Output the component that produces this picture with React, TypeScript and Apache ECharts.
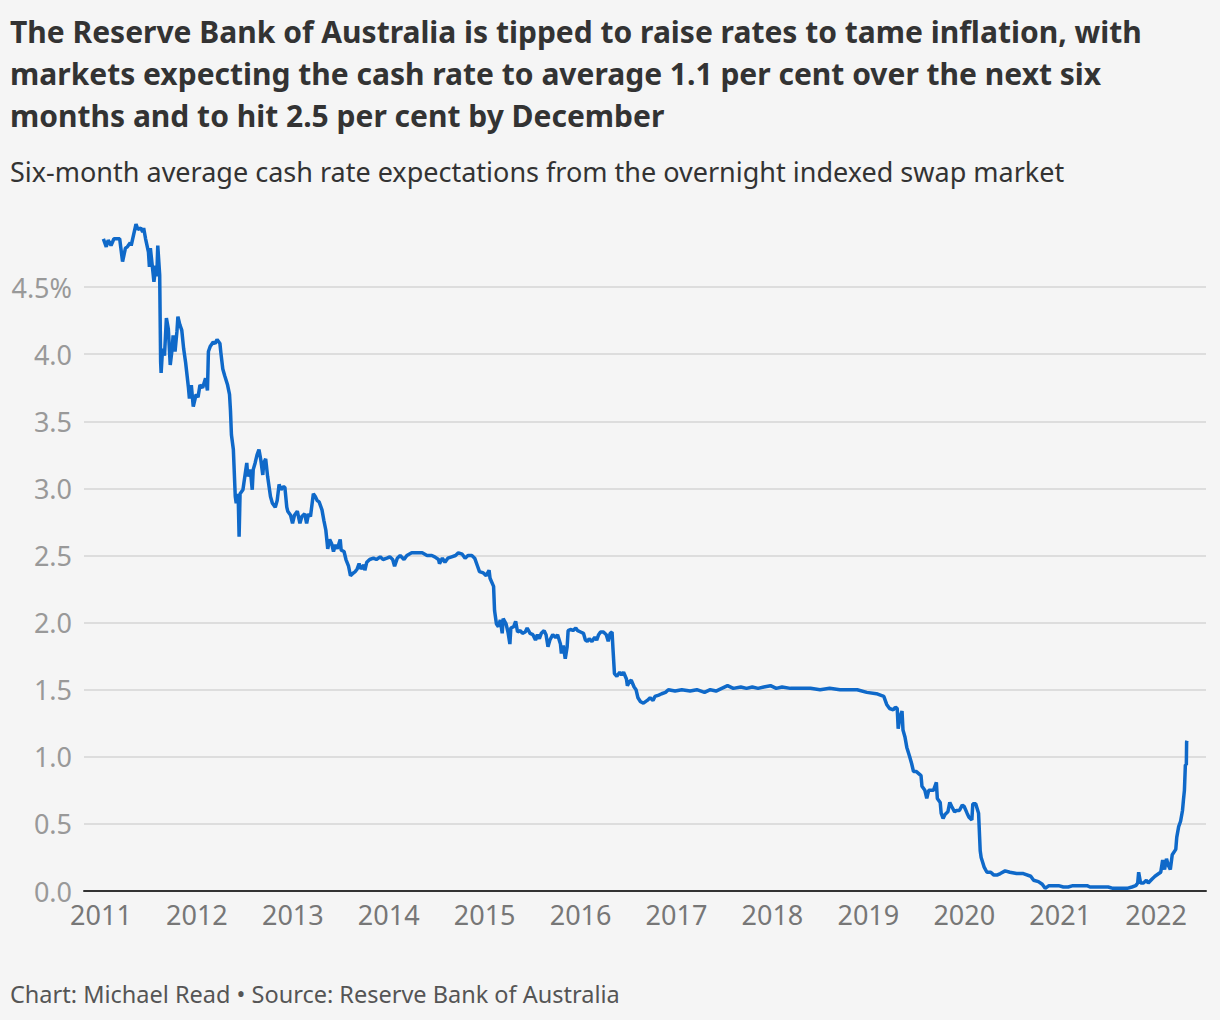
import React, { useEffect, useRef } from "react";
import * as echarts from "echarts";

const titleText =
  "The Reserve Bank of Australia is tipped to raise rates to tame inflation, with\nmarkets expecting the cash rate to average 1.1 per cent over the next six\nmonths and to hit 2.5 per cent by December";
const subtitleText =
  "Six-month average cash rate expectations from the overnight indexed swap market";
const footerText = "Chart: Michael Read \u2022 Source: Reserve Bank of Australia";

const yearTicks = [2011, 2012, 2013, 2014, 2015, 2016, 2017, 2018, 2019, 2020, 2021, 2022];
const yTicks = [0, 0.5, 1, 1.5, 2, 2.5, 3, 3.5, 4, 4.5];

// decimal-year dates
const dates = [
  2011.025, 2011.055, 2011.075, 2011.105, 2011.135, 2011.165, 2011.195, 2011.225, 2011.255, 2011.275,
  2011.305, 2011.315, 2011.365, 2011.385, 2011.415, 2011.435, 2011.445, 2011.465, 2011.495, 2011.505,
  2011.515, 2011.542, 2011.552, 2011.572, 2011.582, 2011.592, 2011.612, 2011.622, 2011.627, 2011.642,
  2011.662, 2011.682, 2011.702, 2011.722, 2011.742, 2011.752, 2011.772, 2011.792, 2011.802, 2011.822,
  2011.842, 2011.862, 2011.882, 2011.912, 2011.922, 2011.942, 2011.962, 2011.992, 2012.012, 2012.032,
  2012.06, 2012.09, 2012.11, 2012.12, 2012.14, 2012.17, 2012.19, 2012.21, 2012.24, 2012.25,
  2012.27, 2012.29, 2012.32, 2012.34, 2012.35, 2012.36, 2012.38, 2012.4, 2012.41, 2012.43,
  2012.44, 2012.45, 2012.48, 2012.49, 2012.52, 2012.53, 2012.557, 2012.577, 2012.587, 2012.607,
  2012.627, 2012.647, 2012.667, 2012.687, 2012.697, 2012.717, 2012.737, 2012.767, 2012.787, 2012.817,
  2012.837, 2012.857, 2012.877, 2012.897, 2012.917, 2012.937, 2012.947, 2012.977, 2012.997, 2013.017,
  2013.047, 2013.074, 2013.094, 2013.124, 2013.144, 2013.164, 2013.184, 2013.214, 2013.234, 2013.254,
  2013.274, 2013.304, 2013.324, 2013.344, 2013.364, 2013.384, 2013.404, 2013.424, 2013.444, 2013.464,
  2013.494, 2013.504, 2013.534, 2013.554, 2013.581, 2013.601, 2013.631, 2013.651, 2013.671, 2013.691,
  2013.711, 2013.741, 2013.751, 2013.771, 2013.801, 2013.841, 2013.871, 2013.911, 2013.941, 2013.981,
  2014.011, 2014.041, 2014.061, 2014.089, 2014.119, 2014.159, 2014.189, 2014.239, 2014.289, 2014.349,
  2014.399, 2014.449, 2014.479, 2014.519, 2014.529, 2014.559, 2014.586, 2014.616, 2014.656, 2014.696,
  2014.726, 2014.766, 2014.796, 2014.826, 2014.866, 2014.896, 2014.926, 2014.946, 2014.986, 2015.016,
  2015.046, 2015.056, 2015.093, 2015.103, 2015.123, 2015.143, 2015.163, 2015.183, 2015.193, 2015.223,
  2015.243, 2015.263, 2015.273, 2015.303, 2015.323, 2015.343, 2015.373, 2015.393, 2015.423, 2015.443,
  2015.473, 2015.503, 2015.53, 2015.55, 2015.57, 2015.59, 2015.62, 2015.64, 2015.66, 2015.68,
  2015.71, 2015.74, 2015.76, 2015.79, 2015.8, 2015.82, 2015.84, 2015.86, 2015.87, 2015.9,
  2015.92, 2015.95, 2015.97, 2016.0, 2016.03, 2016.05, 2016.07, 2016.09, 2016.118, 2016.148,
  2016.168, 2016.188, 2016.208, 2016.238, 2016.268, 2016.288, 2016.308, 2016.328, 2016.338, 2016.353,
  2016.378, 2016.408, 2016.428, 2016.448, 2016.478, 2016.488, 2016.508, 2016.528, 2016.558, 2016.578,
  2016.598, 2016.625, 2016.655, 2016.695, 2016.725, 2016.755, 2016.775, 2016.815, 2016.845, 2016.885,
  2016.915, 2016.985, 2017.055, 2017.142, 2017.212, 2017.292, 2017.352, 2017.412, 2017.472, 2017.532,
  2017.592, 2017.67, 2017.73, 2017.79, 2017.85, 2017.91, 2017.98, 2018.04, 2018.1, 2018.187,
  2018.287, 2018.397, 2018.497, 2018.597, 2018.704, 2018.814, 2018.884, 2018.984, 2019.084, 2019.161,
  2019.191, 2019.221, 2019.261, 2019.281, 2019.301, 2019.311, 2019.331, 2019.351, 2019.361, 2019.381,
  2019.401, 2019.431, 2019.451, 2019.471, 2019.501, 2019.549, 2019.559, 2019.589, 2019.609, 2019.629,
  2019.659, 2019.679, 2019.709, 2019.719, 2019.749, 2019.759, 2019.779, 2019.799, 2019.829, 2019.849,
  2019.869, 2019.899, 2019.919, 2019.949, 2019.979, 2019.999, 2020.029, 2020.049, 2020.079, 2020.089,
  2020.119, 2020.149, 2020.166, 2020.176, 2020.206, 2020.236, 2020.276, 2020.306, 2020.346, 2020.376,
  2020.426, 2020.476, 2020.546, 2020.616, 2020.693, 2020.723, 2020.773, 2020.813, 2020.843, 2020.883,
  2020.933, 2020.983, 2021.033, 2021.083, 2021.133, 2021.21, 2021.28, 2021.31, 2021.38, 2021.45,
  2021.5, 2021.55, 2021.62, 2021.698, 2021.748, 2021.788, 2021.808, 2021.818, 2021.838, 2021.868,
  2021.898, 2021.918, 2021.958, 2021.988, 2022.028, 2022.048, 2022.068, 2022.088, 2022.108, 2022.128,
  2022.148, 2022.168, 2022.205, 2022.215, 2022.235, 2022.255, 2022.275, 2022.285, 2022.295, 2022.305,
  2022.315, 2022.318, 2022.322,
];

// six-month average cash rate expectations, per cent
const values = [
  4.86, 4.8, 4.85, 4.81, 4.86, 4.86, 4.86, 4.69, 4.79, 4.8,
  4.83, 4.81, 4.97, 4.93, 4.94, 4.91, 4.94, 4.86, 4.76, 4.65,
  4.79, 4.61, 4.54, 4.66, 4.58, 4.81, 4.59, 3.94, 3.86, 4.04,
  3.99, 4.27, 4.19, 3.92, 4.04, 4.14, 4.02, 4.17, 4.28, 4.22,
  4.18, 4.04, 3.94, 3.75, 3.67, 3.77, 3.61, 3.7, 3.68, 3.77,
  3.75, 3.82, 3.73, 4.02, 4.06, 4.09, 4.08, 4.11, 4.08, 4.01,
  3.89, 3.84, 3.77, 3.7, 3.58, 3.4, 3.29, 2.94, 2.89, 2.96,
  2.64, 2.96, 2.99, 3.04, 3.19, 3.09, 3.14, 2.99, 3.14, 3.19,
  3.25, 3.29, 3.21, 3.1, 3.19, 3.22, 3.09, 2.94, 2.89, 2.86,
  2.91, 3.03, 2.99, 3.01, 3.01, 2.86, 2.83, 2.8, 2.74, 2.8,
  2.83, 2.74, 2.79, 2.81, 2.74, 2.81, 2.79, 2.96, 2.94, 2.91,
  2.9, 2.84, 2.76, 2.69, 2.55, 2.62, 2.59, 2.53, 2.58, 2.55,
  2.62, 2.54, 2.53, 2.47, 2.42, 2.35, 2.37, 2.38, 2.4, 2.44,
  2.4, 2.43, 2.39, 2.45, 2.47, 2.48, 2.47, 2.49, 2.47, 2.48,
  2.49, 2.47, 2.42, 2.48, 2.5, 2.47, 2.5, 2.52, 2.52, 2.52,
  2.5, 2.5, 2.49, 2.47, 2.44, 2.48, 2.45, 2.48, 2.49, 2.5,
  2.52, 2.51, 2.48, 2.5, 2.5, 2.48, 2.42, 2.38, 2.37, 2.35,
  2.39, 2.33, 2.27, 2.09, 1.99, 1.97, 2.02, 1.92, 2.03, 1.99,
  1.93, 1.84, 1.96, 1.97, 2.01, 1.93, 1.94, 1.92, 1.93, 1.96,
  1.92, 1.91, 1.87, 1.91, 1.88, 1.92, 1.94, 1.91, 1.82, 1.87,
  1.91, 1.89, 1.91, 1.84, 1.77, 1.83, 1.73, 1.82, 1.94, 1.95,
  1.94, 1.96, 1.94, 1.93, 1.92, 1.87, 1.86, 1.88, 1.86, 1.89,
  1.87, 1.91, 1.93, 1.93, 1.91, 1.86, 1.92, 1.93, 1.8, 1.62,
  1.6, 1.63, 1.61, 1.63, 1.58, 1.53, 1.56, 1.57, 1.52, 1.5,
  1.44, 1.41, 1.4, 1.42, 1.44, 1.42, 1.45, 1.46, 1.47, 1.48,
  1.5, 1.49, 1.5, 1.49, 1.5, 1.48, 1.5, 1.49, 1.51, 1.53,
  1.51, 1.52, 1.51, 1.52, 1.51, 1.52, 1.53, 1.51, 1.52, 1.51,
  1.51, 1.51, 1.5, 1.51, 1.5, 1.5, 1.5, 1.48, 1.47, 1.45,
  1.39, 1.36, 1.35, 1.37, 1.36, 1.21, 1.3, 1.34, 1.2, 1.15,
  1.07, 1.0, 0.95, 0.89, 0.89, 0.86, 0.78, 0.75, 0.69, 0.75,
  0.75, 0.75, 0.81, 0.69, 0.66, 0.58, 0.54, 0.57, 0.59, 0.66,
  0.63, 0.59, 0.6, 0.6, 0.64, 0.63, 0.58, 0.55, 0.53, 0.65,
  0.65, 0.58, 0.3, 0.25, 0.18, 0.14, 0.14, 0.12, 0.12, 0.13,
  0.15, 0.14, 0.13, 0.13, 0.11, 0.08, 0.07, 0.05, 0.02, 0.04,
  0.04, 0.04, 0.03, 0.03, 0.04, 0.04, 0.04, 0.03, 0.03, 0.03,
  0.03, 0.02, 0.02, 0.02, 0.03, 0.04, 0.06, 0.14, 0.06, 0.06,
  0.08, 0.06, 0.09, 0.11, 0.13, 0.14, 0.23, 0.16, 0.24, 0.19,
  0.16, 0.27, 0.31, 0.4, 0.48, 0.52, 0.6, 0.68, 0.75, 0.94,
  0.94, 1.11, 1.12,
];

const FONT = "'Noto Sans', 'Open Sans', sans-serif";

export default function App() {
  const ref = useRef<HTMLDivElement>(null);

  useEffect(() => {
    if (!ref.current) return;
    const chart = echarts.init(ref.current, undefined, { renderer: "svg" });
    const seriesData = dates.map((d, i) => [d, values[i]]);
    chart.setOption({
      animation: false,
      backgroundColor: "#f5f5f5",
      textStyle: { fontFamily: FONT },
      title: [
        {
          text: titleText,
          left: 10,
          top: 10,
          padding: 0,
          textStyle: {
            fontFamily: FONT,
            fontSize: 30,
            fontWeight: "bold",
            color: "#333333",
            lineHeight: 42,
          },
        },
        {
          text: subtitleText,
          left: 10,
          top: 155,
          padding: 0,
          textStyle: {
            fontFamily: FONT,
            fontSize: 27,
            fontWeight: "normal",
            color: "#333333",
            lineHeight: 32,
          },
        },
        {
          text: footerText,
          left: 10,
          top: 980,
          padding: 0,
          textStyle: {
            fontFamily: FONT,
            fontSize: 23.5,
            fontWeight: "normal",
            color: "#555555",
            lineHeight: 28,
          },
        },
      ],
      grid: { left: 84, right: 14, top: 220, bottom: 129, containLabel: false },
      xAxis: {
        type: "value",
        min: 2010.823,
        max: 2022.52,
        axisLine: { show: true, lineStyle: { color: "#333333", width: 2 } },
        axisTick: { show: false },
        splitLine: { show: false },
        axisLabel: {
          customValues: yearTicks,
          formatter: (v: number) => String(Math.round(v)),
          fontFamily: FONT,
          fontSize: 27,
          color: "#777777",
          margin: 10,
        },
      },
      yAxis: {
        type: "value",
        min: 0,
        max: 5,
        interval: 0.5,
        axisLine: { show: false },
        axisTick: { show: false },
        splitLine: { show: true, showMaxLine: false, lineStyle: { color: "#dddddd", width: 2 } },
        axisLabel: {
          customValues: yTicks,
          formatter: (v: number) => (Math.abs(v - 4.5) < 1e-6 ? "4.5%" : v.toFixed(1)),
          fontFamily: FONT,
          fontSize: 27,
          color: "#999999",
          margin: 12,
        },
      },
      series: [
        {
          type: "line",
          data: seriesData,
          showSymbol: false,
          symbol: "none",
          lineStyle: { color: "#0f69c9", width: 3.5 },
          itemStyle: { color: "#0f69c9" },
        },
      ],
    });
    return () => chart.dispose();
  }, []);

  return (
    <div
      ref={ref}
      style={{ position: "fixed", left: 0, top: 0, width: 1220, height: 1020 }}
    />
  );
}
